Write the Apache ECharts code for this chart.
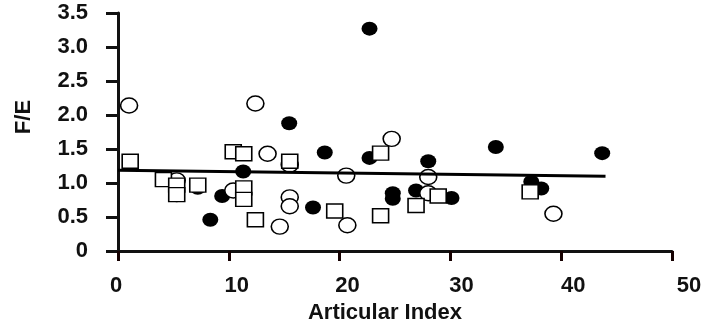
<!DOCTYPE html>
<html>
<head>
<meta charset="utf-8">
<style>
  html, body { margin: 0; padding: 0; background: #fff; }
  #chart { width: 705px; height: 329px; }
</style>
<script src="https://cdn.jsdelivr.net/npm/echarts@6/dist/echarts.min.js"></script>
</head>
<body>
<div id="chart"></div>
<script>
// 空心圆
const openCircles = [
  [1.0, 2.14], [12.4, 2.17], [13.5, 1.43], [24.7, 1.65], [20.6, 1.11],
  [10.4, 0.89], [5.3, 1.04], [15.5, 1.27], [15.5, 0.79], [15.5, 0.66],
  [14.6, 0.36], [20.7, 0.38], [28.0, 1.09], [28.0, 0.85], [39.3, 0.55],
]
// 实心圆
const filledCircles = [
  [22.7, 3.27], [15.45, 1.88], [18.66, 1.45], [22.7, 1.37], [11.3, 1.17],
  [9.4, 0.81], [8.33, 0.46], [17.6, 0.64], [24.8, 0.85], [24.8, 0.77],
  [28.0, 1.32], [26.9, 0.89], [30.1, 0.78], [34.1, 1.53], [37.3, 1.02],
  [38.2, 0.92], [43.7, 1.44], [5.3, 0.82], [7.2, 0.93],
]
// 空心方块
const openSquares = [
  [1.1, 1.32], [4.1, 1.05], [5.3, 0.97], [5.3, 0.83], [7.2, 0.97],
  [10.4, 1.46], [11.35, 1.43], [11.35, 0.93], [11.35, 0.76], [12.4, 0.46],
  [15.5, 1.32], [19.56, 0.59], [23.7, 1.44], [23.7, 0.52], [26.9, 0.67],
  [28.9, 0.81], [37.2, 0.87],
]
// 回归线
const trendLine = [[0, 1.19], [44, 1.10]]

const font = 'Liberation Sans, Arial, sans-serif'
const ellipse = 'path://M8,0A8,7 0 1,1 8,14A8,7 0 1,1 8,0Z'

// x轴标签微调位置
const xShift = { 0: -2, 10: 8, 20: 8, 30: 11, 40: 12, 50: 17 }
const xRich = {}
Object.keys(xShift).forEach(function (k) {
  const s = xShift[k]
  xRich['s' + k] = {
    fontFamily: font, fontWeight: 'bold', fontSize: 22, color: '#111',
    padding: s >= 0 ? [0, 0, 0, 2 * s] : [0, -2 * s, 0, 0],
  }
})

const option = {
  animation: false,
  grid: { left: 118, top: 13, width: 554, height: 240 },
  xAxis: {
    type: 'value',
    position: 'bottom',
    min: 0,
    max: 50,
    interval: 10,
    name: 'Articular Index',
    nameLocation: 'middle',
    nameGap: 50,
    nameTextStyle: {
      fontFamily: font, fontWeight: 'bold', fontSize: 22, color: '#111',
      padding: [0, 20, 0, 0],
    },
    axisLine: { show: true, onZero: false, lineStyle: { color: '#111', width: 3 } },
    axisTick: { show: true, inside: false, length: 10, lineStyle: { color: '#150000', width: 3 } },
    axisLabel: {
      margin: 24,
      formatter: function (v) { return '{s' + v + '|' + v + '}' },
      rich: xRich,
    },
    splitLine: { show: false },
  },
  yAxis: {
    type: 'value',
    min: 0,
    max: 3.5,
    interval: 0.5,
    name: 'F/E',
    nameLocation: 'middle',
    nameGap: 83,
    nameTextStyle: {
      fontFamily: font, fontWeight: 'bold', fontSize: 22, color: '#111',
      padding: [0, 0, 0, 30],
    },
    axisLine: { onZero: false, lineStyle: { color: '#111', width: 3 } },
    axisTick: { show: true, length: 12, lineStyle: { color: '#111', width: 3 } },
    axisLabel: {
      margin: 30,
      fontFamily: font, fontWeight: 'bold', fontSize: 22, color: '#111',
      formatter: function (v) { return v === 0 ? '0' : v.toFixed(1) },
    },
    splitLine: { show: false },
  },
  series: [
    {
      name: 'filled',
      type: 'scatter',
      symbol: ellipse,
      symbolSize: [16, 14],
      itemStyle: { color: '#000', opacity: 1 },
      data: filledCircles,
      z: 2,
    },
    {
      name: 'open',
      type: 'scatter',
      symbol: ellipse,
      symbolSize: [17, 15],
      itemStyle: { color: '#fff', borderColor: '#000', borderWidth: 1.5, opacity: 1 },
      data: openCircles,
      z: 3,
    },
    {
      name: 'square',
      type: 'scatter',
      symbol: 'rect',
      symbolSize: [16, 14],
      itemStyle: { color: '#fff', borderColor: '#000', borderWidth: 1.5, opacity: 1 },
      data: openSquares,
      z: 4,
    },
    {
      name: 'trend',
      type: 'line',
      symbol: 'none',
      lineStyle: { color: '#000', width: 3 },
      data: trendLine,
      z: 5,
    },
  ],
}
echarts.init(document.getElementById('chart')).setOption(option)
</script>
</body>
</html>
